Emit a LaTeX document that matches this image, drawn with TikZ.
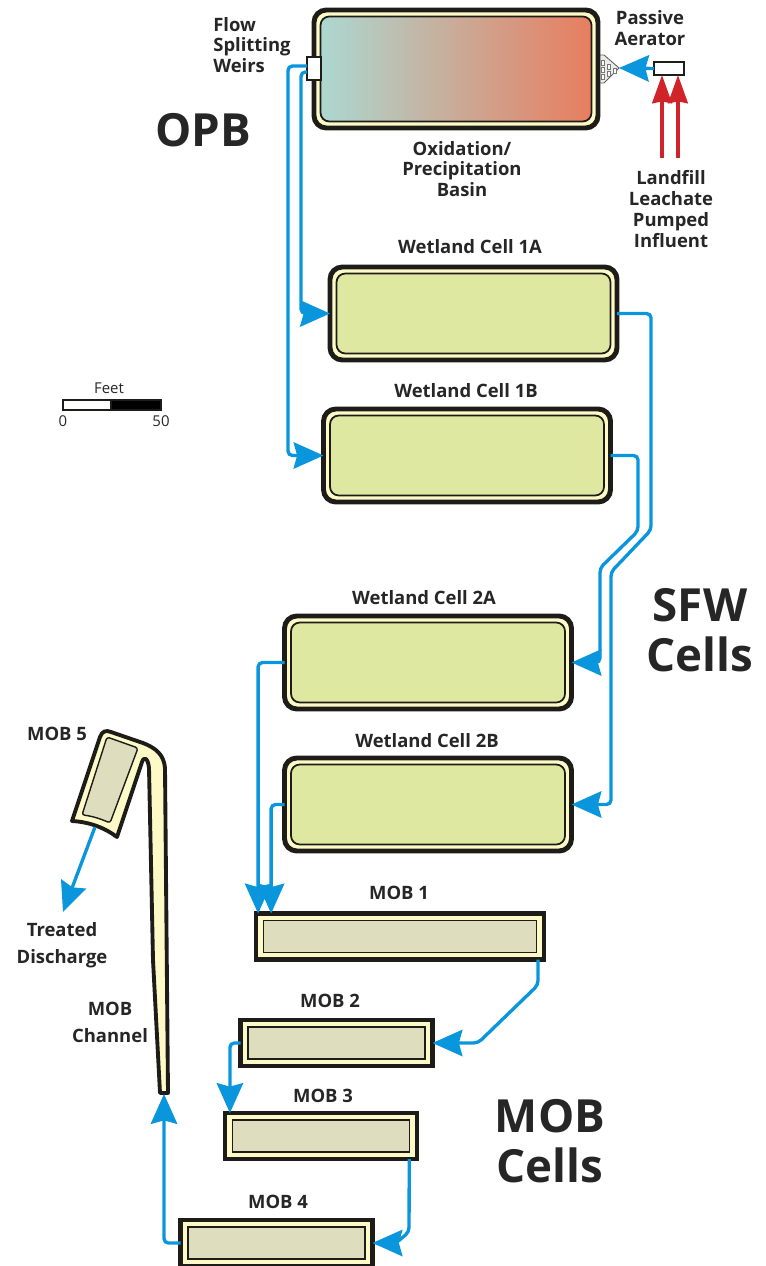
\documentclass[tikz,border=0pt]{standalone}
\usepackage{fontspec}
\setmainfont{Open Sans}
\usetikzlibrary{arrows.meta,positioning}

\definecolor{flowblue}{RGB}{10,150,220}
\definecolor{inred}{RGB}{208,35,42}
\definecolor{cream}{RGB}{253,250,200}
\definecolor{cellgreen}{RGB}{222,232,160}
\definecolor{mobgray}{RGB}{222,222,190}
\definecolor{edgedark}{RGB}{30,28,24}
\definecolor{basinleft}{RGB}{172,216,208}
\definecolor{basinmid}{RGB}{205,190,165}
\definecolor{basinright}{RGB}{232,125,95}

\tikzset{
  flow/.style={flowblue,line width=1.9pt,-{Stealth[length=17pt,width=15pt,inset=2pt]}},
  bends/.style={rounded corners=2.5pt},
  feed/.style={inred,line width=2.3pt,-{Stealth[length=16pt,width=11pt,inset=1pt]}},
  cellout/.style={draw=edgedark,line width=2.8pt,fill=cream,rounded corners=7pt,inner sep=0pt,outer sep=0pt},
  cellin/.style={draw=edgedark,line width=1pt,fill=cellgreen,rounded corners=5pt,inner sep=0pt,outer sep=0pt},
  mobout/.style={draw=edgedark,line width=2.4pt,fill=cream,inner sep=0pt,outer sep=0pt},
  mobin/.style={draw=edgedark,line width=1pt,fill=mobgray,inner sep=0pt,outer sep=0pt},
  tinybox/.style={draw=edgedark,line width=0.6pt,fill=white,inner sep=0pt,outer sep=0pt},
  txt/.style={font=\bfseries\fontsize{10.5}{11.8}\selectfont,text=black!85,inner sep=0pt,align=center},
  bigtxt/.style={font=\bfseries\fontsize{26}{28.5}\selectfont,text=black!85,inner sep=0pt,align=center},
  scaletxt/.style={font=\fontsize{8.5}{10}\selectfont,text=black!85,inner sep=0pt}
}

\begin{document}
\begin{tikzpicture}[x=0.02cm,y=-0.02cm]
  \useasboundingbox (0,0) rectangle (765,1266);

  % Passive aerator
  \draw[draw=edgedark!70,line width=0.5pt,fill=black!8] (598,55) -- (604,55) -- (619,68) -- (604,83) -- (598,83) -- cycle;
  \foreach \x/\y in {601/60,601/67,601/74,607/64,607/71,613/68} {
    \draw[edgedark!60,line width=0.4pt,fill=white] (\x,\y) rectangle ++(3.5,5);
  }

  % Oxidation basin
  \node[cellout,minimum width=284*0.02cm,minimum height=118*0.02cm] (basin) at (456,69) {};
  \node[cellin,left color=basinleft,middle color=basinmid,right color=basinright,minimum width=271*0.02cm,minimum height=105*0.02cm] (basinin) at (456,69) {};

  % Wetland cells
  \foreach \name/\cx/\cy/\lx/\ly/\lab in {cellA/473.5/313.5/470/247/Wetland Cell 1A,cellB/467/455.5/466/391/Wetland Cell 1B,cellC/428/662.5/424/598/Wetland Cell 2A,cellD/428/804.5/427/741/Wetland Cell 2B} {
    \node[cellout,minimum width=287*0.02cm,minimum height=93*0.02cm] (\name) at (\cx,\cy) {};
    \node[cellin,minimum width=274*0.02cm,minimum height=80*0.02cm] (\name in) at (\cx,\cy) {};
    \node[txt] (\name lab) at (\lx,\ly) {\lab};
  }

  % MOB cells
  \foreach \name/\cx/\cy/\mw/\lx/\ly/\lab in {mobA/400/936.5/288/399/893/MOB 1,mobB/336.5/1043/192/330/1001/MOB 2,mobC/321/1136/192/323/1096/MOB 3,mobD/276.5/1243/192/278/1202/MOB 4} {
    \node[mobout,minimum width=\mw*0.02cm,minimum height=46*0.02cm] (\name) at (\cx,\cy) {};
    \node[mobin,minimum width=(\mw-15)*0.02cm,minimum height=32*0.02cm] (\name in) at (\cx,\cy) {};
    \node[txt] (\name lab) at (\lx,\ly) {\lab};
  }

  % MOB 5 and its channel
  \draw[draw=edgedark,line width=2.2pt,line join=round,fill=cream]
    (100,737) .. controls (102,731) and (106,730) .. (111,732) -- (143,743)
    .. controls (156,748) and (164,755) .. (165,768) -- (168,1093) -- (160,1093)
    -- (153,960) -- (149,768) .. controls (148,758) and (144,756) .. (142,762)
    -- (117,837) .. controls (105,828) and (90,822) .. (72,821) -- cycle;
  \draw[draw=edgedark,line width=0.8pt,fill=mobgray,rounded corners=1.5pt]
    (107,737) -- (138,748) -- (110,823) .. controls (101,819) and (92,816) .. (82,815) -- cycle;

  % Weir and aerator inlet
  \node[tinybox,minimum width=14*0.02cm,minimum height=23*0.02cm,line width=0.8pt] (weir) at (314,68.5) {};
  \node[tinybox,minimum width=30*0.02cm,minimum height=13*0.02cm,line width=0.8pt] (inlet) at (669,68.5) {};

  % Free ends
  \coordinate (aertip) at (619,68);
  \coordinate (redtailA) at (662,158);
  \coordinate (redtailB) at (678,158);
  \coordinate (mobfive) at (95,827);
  \coordinate (outfall) at (63,912);
  \coordinate (chanfoot) at (164,1094);

  % Influent
  \draw[feed] (redtailA) -- (redtailA |- inlet.south);
  \draw[feed] (redtailB) -- (redtailB |- inlet.south);
  \draw[flow] (inlet.west) -- (aertip);

  % Flow through the wetlands
  \draw[flow] [bends] ([yshift=1.4pt]weir.west) -- (288,66) |- (cellB.west) [sharp corners];
  \draw[flow] [bends] ([yshift=-2pt]weir.west) -- (301,72) |- (cellA.west) [sharp corners];
  \draw[flow] [bends] (cellA.east) -- (651,313.5) -- (651,530) -- (611,572) |- (cellD.east) [sharp corners];
  \draw[flow] [bends] (cellB.east) -- (638,455.5) -- (638,531) -- (600,568) |- (cellC.east) [sharp corners];
  \draw[flow] [bends] (cellC.west) -| ([xshift=1.2pt]mobA.north west) [sharp corners];
  \draw[flow] [bends] (cellD.west) -| ([xshift=8.6pt]mobA.north west) [sharp corners];

  % Flow through the MOBs
  \draw[flow] [bends] ([xshift=-3.4pt]mobA.south east) -- (538,985) -- (478,1043) -- (mobB.east) [sharp corners];
  \draw[flow] [bends] (mobB.west) -| ([xshift=2.8pt]mobC.north west) [sharp corners];
  \draw[flow] [bends] ([xshift=-4.4pt]mobC.south east) -- (409,1232) -- (396,1243) -- (mobD.east) [sharp corners];
  \draw[flow] [bends] (mobD.west) -| (chanfoot) [sharp corners];
  \draw[flow] (mobfive) -- (outfall);

  % Labels
  \node[txt,align=left] (weirlab) at (252,45) {Flow\\Splitting\\Weirs};
  \node[txt] (aerlab) at (650,28) {Passive\\Aerator};
  \node[txt] (basinlab) at (462,169) {Oxidation/\\Precipitation\\Basin};
  \node[txt] (influentlab) at (671,209) {Landfill\\Leachate\\Pumped\\Influent};
  \node[txt] (mobfivelab) at (57,734) {MOB 5};
  \node[txt,font=\bfseries\fontsize{10.5}{15.4}\selectfont] (outfalllab) at (62,945) {Treated\\Discharge};
  \node[txt,font=\bfseries\fontsize{10.5}{15.4}\selectfont] (channellab) at (110,1022) {MOB\\Channel};
  \node[bigtxt] (opblab) at (203,130) {OPB};
  \node[bigtxt] (sfwlab) at (700,630) {SFW\\Cells};
  \node[bigtxt] (moblab) at (550,1141) {MOB\\Cells};

  % Scale bar
  \node[tinybox,minimum width=48*0.02cm,minimum height=10*0.02cm] (barwhite) at (87,405) {};
  \node[tinybox,fill=black,minimum width=50*0.02cm,minimum height=10*0.02cm] (barblack) at (136,405) {};
  \node[scaletxt] (feetlab) at (109,388) {Feet};
  \node[scaletxt] (zerolab) at (63,421) {0};
  \node[scaletxt] (fiftylab) at (161,421) {50};
\end{tikzpicture}
\end{document}
